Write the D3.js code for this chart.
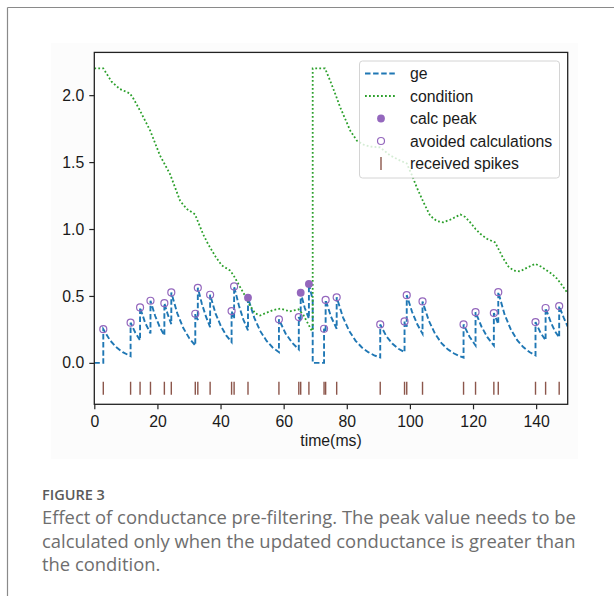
<!DOCTYPE html>
<html>
<head>
<meta charset="utf-8">
<script src="https://cdn.jsdelivr.net/npm/d3@7"></script>
<style>
  html, body { margin: 0; padding: 0; background: #fff; }
  svg { display: block; }
</style>
</head>
<body>
<div id="chart"></div>
<script>
// Received spike times (ms)
const spikeTimes = [2.85, 11.5, 14.5, 17.8, 22.2, 24.4, 32.0, 32.8, 36.7, 43.5, 44.3, 48.7,
  58.5, 64.8, 65.4, 68.0, 72.8, 73.3, 76.8, 90.6, 98.3, 99.0, 104.0,
  117.0, 120.8, 126.6, 128.0, 139.8, 143.0, 147.3];
// Conductance value right after each spike
const peakValues = [0.252, 0.30, 0.414, 0.464, 0.446, 0.526, 0.367, 0.561, 0.509, 0.387, 0.571, 0.487,
  0.325, 0.342, 0.524, 0.59, 0.255, 0.47, 0.49, 0.287, 0.31, 0.506, 0.459,
  0.287, 0.379, 0.372, 0.528, 0.305, 0.41, 0.424];
// Whether the peak had to be calculated (true) or was skipped (false)
const peakCalculated = [false, false, false, false, false, false, false, false, false, false, false, true,
  false, false, true, true, false, false, false, false, false, false, false,
  false, false, false, false, false, false, false];
// Level at which received spikes are marked
const spikeLevel = -0.19;

// Excitatory conductance trace [time, ge]
const geTrace = [
  [0, 0], [2.85, 0], [2.85, 0.252], [5, 0.168], [7, 0.116], [9, 0.08], [11.5, 0.05], [11.5, 0.30],
  [13, 0.225], [14.5, 0.168], [14.5, 0.414], [16.1, 0.30], [17.8, 0.22], [17.8, 0.464],
  [19.3, 0.35], [20.8, 0.265], [22.2, 0.205], [22.2, 0.446], [23.3, 0.36], [24.4, 0.29], [24.4, 0.526],
  [26.3, 0.37], [28.2, 0.26], [30.1, 0.184], [32.0, 0.13], [32.0, 0.367], [32.8, 0.32], [32.8, 0.561],
  [34.1, 0.44], [35.4, 0.345], [36.7, 0.267], [36.7, 0.509], [38.4, 0.37], [40.1, 0.275], [41.8, 0.205],
  [43.5, 0.155], [43.5, 0.387], [44.3, 0.33], [44.3, 0.571], [45.8, 0.43], [47.2, 0.325], [48.7, 0.243],
  [48.7, 0.487], [50.7, 0.336], [52.6, 0.237], [54.6, 0.164], [56.5, 0.115], [58.5, 0.08], [58.5, 0.325],
  [60.6, 0.22], [62.7, 0.15], [64.8, 0.10], [64.8, 0.342], [65.4, 0.305], [65.4, 0.524], [66.7, 0.41],
  [68.0, 0.33], [68.0, 0.59], [69.2, 0.47], [69.2, 0], [72.8, 0], [72.8, 0.255], [73.3, 0.232],
  [73.3, 0.47], [75.0, 0.345], [76.8, 0.255], [76.8, 0.49], [78.8, 0.34], [80.8, 0.237], [82.8, 0.165],
  [84.8, 0.115], [86.8, 0.08], [88.7, 0.056], [90.6, 0.04], [90.6, 0.287], [92.5, 0.20], [94.4, 0.145],
  [96.4, 0.105], [98.3, 0.08], [98.3, 0.31], [99.0, 0.27], [99.0, 0.506], [100.7, 0.38], [102.3, 0.29],
  [104.0, 0.218], [104.0, 0.459], [106, 0.315], [108, 0.216], [110, 0.148], [112, 0.101], [114, 0.07],
  [115.5, 0.053], [117.0, 0.039], [117.0, 0.287], [118.9, 0.195], [120.8, 0.13], [120.8, 0.379],
  [122.7, 0.27], [124.6, 0.19], [126.6, 0.13], [126.6, 0.372], [128.0, 0.29], [128.0, 0.528],
  [130, 0.362], [132, 0.248], [134, 0.17], [136, 0.116], [138, 0.079], [139.8, 0.056], [139.8, 0.305],
  [141.4, 0.225], [143.0, 0.168], [143.0, 0.41], [144.7, 0.30], [146.0, 0.235], [147.3, 0.19],
  [147.3, 0.424], [148.7, 0.34], [150, 0.27]
];

// Pre-filtering condition [time, value]
const conditionTrace = [
  [0, 2.2], [2.85, 2.2], [5.5, 2.1], [8.1, 2.046], [11.3, 2.013], [12.5, 1.97], [14.5, 1.884],
  [17.7, 1.735], [20.8, 1.55], [24.0, 1.41], [27.2, 1.21], [29.3, 1.15], [31.9, 1.11], [34.5, 0.96],
  [36.0, 0.89], [38.5, 0.79], [40.4, 0.728], [43.0, 0.69], [44.1, 0.655], [46.2, 0.566], [47.8, 0.5],
  [49.3, 0.43], [51, 0.37], [52.5, 0.354], [54.6, 0.375], [56.7, 0.395], [58.9, 0.405], [62, 0.385],
  [64.7, 0.4], [66.2, 0.36], [68.9, 0.24], [69.2, 0.24], [69.2, 2.2], [73.1, 2.2], [74.7, 2.11],
  [76.5, 2.0], [77.9, 1.91], [81.1, 1.735], [83.2, 1.66], [85.3, 1.63], [87.4, 1.616], [90.6, 1.61],
  [93.7, 1.55], [97, 1.51], [99, 1.49], [100.5, 1.41], [102.2, 1.31], [104.3, 1.2], [106.4, 1.1],
  [108.5, 1.06], [110.5, 1.05], [112.8, 1.07], [116, 1.108], [117.5, 1.09], [119.1, 1.05], [120.8, 1.0],
  [122.3, 0.964], [124.4, 0.927], [127, 0.90], [128.3, 0.84], [129.6, 0.78], [131.2, 0.72], [132.8, 0.69],
  [134.9, 0.683], [137, 0.71], [139.7, 0.74], [141.5, 0.72], [143.4, 0.69], [145, 0.665], [146.6, 0.63],
  [148.2, 0.58], [150, 0.52]
];

const xTicks = [0, 20, 40, 60, 80, 100, 120, 140];
const yTicks = [0, 0.5, 1.0, 1.5, 2.0];
const legendLabels = ["ge", "condition", "calc peak", "avoided calculations", "received spikes"];
const xLabel = "time(ms)";
const captionTitle = "FIGURE 3";
const captionLines = [
  "Effect of conductance pre-filtering. The peak value needs to be",
  "calculated only when the updated conductance is greater than",
  "the condition."
];

const W = 614, H = 596;
const plot = { left: 94.3, right: 567.7, top: 52.4, bottom: 404.3 };
const colors = { ge: "#1f77b4", cond: "#2ca02c", peak: "#9467bd", spike: "#8c564b" };
const tickFont = "'Liberation Sans', Arial, sans-serif";
const labelSize = 15.8;

const svg = d3.select("#chart").append("svg").attr("width", W).attr("height", H);

// page frame and figure panel
svg.append("rect").attr("x", 51).attr("y", 43).attr("width", 527).attr("height", 416).attr("fill", "#fcfcfc");
svg.append("line").attr("x1", 7.5).attr("x2", W).attr("y1", 7.5).attr("y2", 7.5)
  .attr("stroke", "#8a8a8a").attr("stroke-width", 1.2);
svg.append("line").attr("x1", 7.5).attr("x2", 7.5).attr("y1", 7.5).attr("y2", H)
  .attr("stroke", "#8a8a8a").attr("stroke-width", 1.2);

const x = d3.scaleLinear().domain([0, 150]).range([plot.left, plot.right]);
const y = d3.scaleLinear().domain([-0.3095, 2.3195]).range([plot.bottom, plot.top]);

svg.append("rect").attr("x", plot.left).attr("y", plot.top)
  .attr("width", plot.right - plot.left).attr("height", plot.bottom - plot.top).attr("fill", "#fff");

svg.append("clipPath").attr("id", "plotClip").append("rect")
  .attr("x", plot.left).attr("y", plot.top)
  .attr("width", plot.right - plot.left).attr("height", plot.bottom - plot.top);

const g = svg.append("g").attr("clip-path", "url(#plotClip)");
const line = d3.line().x(d => x(d[0])).y(d => y(d[1]));

g.append("path").datum(geTrace).attr("d", line)
  .attr("fill", "none").attr("stroke", colors.ge).attr("stroke-width", 1.9)
  .attr("stroke-dasharray", "5.5,2.6");

g.append("path").datum(conditionTrace).attr("d", line)
  .attr("fill", "none").attr("stroke", colors.cond).attr("stroke-width", 1.8)
  .attr("stroke-dasharray", "1.8,2.2");

const peaks = spikeTimes.map((t, i) => ({ t, v: peakValues[i], calc: peakCalculated[i] }));

g.selectAll("circle.calc").data(peaks.filter(d => d.calc)).join("circle")
  .attr("class", "calc").attr("cx", d => x(d.t)).attr("cy", d => y(d.v)).attr("r", 3.9)
  .attr("fill", colors.peak);

g.selectAll("circle.avoided").data(peaks.filter(d => !d.calc)).join("circle")
  .attr("class", "avoided").attr("cx", d => x(d.t)).attr("cy", d => y(d.v)).attr("r", 3.5)
  .attr("fill", "none").attr("stroke", colors.peak).attr("stroke-width", 1.2);

g.selectAll("line.spike").data(spikeTimes).join("line")
  .attr("class", "spike")
  .attr("x1", d => x(d)).attr("x2", d => x(d))
  .attr("y1", y(spikeLevel) - 6.5).attr("y2", y(spikeLevel) + 6.5)
  .attr("stroke", colors.spike).attr("stroke-width", 1.4);

// axes
const xAxis = svg.append("g").attr("transform", `translate(0,${plot.bottom})`)
  .call(d3.axisBottom(x).tickValues(xTicks).tickFormat(d3.format("d")).tickSizeOuter(0).tickSize(5).tickPadding(6));
const yAxis = svg.append("g").attr("transform", `translate(${plot.left},0)`)
  .call(d3.axisLeft(y).tickValues(yTicks).tickFormat(d3.format(".1f")).tickSizeOuter(0).tickSize(5).tickPadding(5));
[xAxis, yAxis].forEach(a => {
  a.select(".domain").remove();
  a.selectAll(".tick line").attr("stroke", "#222").attr("stroke-width", 1.2);
  a.selectAll(".tick text").attr("font-family", tickFont).attr("font-size", labelSize).attr("fill", "#1a1a1a");
});

// frame of the axes
svg.append("rect").attr("x", plot.left).attr("y", plot.top)
  .attr("width", plot.right - plot.left).attr("height", plot.bottom - plot.top)
  .attr("fill", "none").attr("stroke", "#222").attr("stroke-width", 1.3);

svg.append("text").attr("x", x(75)).attr("y", 445.5).attr("text-anchor", "middle")
  .attr("font-family", tickFont).attr("font-size", labelSize).attr("fill", "#1a1a1a").text(xLabel);

// legend
const lg = svg.append("g");
lg.append("rect").attr("x", 359.5).attr("y", 61).attr("width", 200).attr("height", 117).attr("rx", 3)
  .attr("fill", "#fff").attr("fill-opacity", 0.8).attr("stroke", "#d4d4d4").attr("stroke-width", 1);
const rowY = i => 73.5 + i * 22.5;
const hx0 = 365, hx1 = 397, hxc = 381;
lg.append("line").attr("x1", hx0).attr("x2", hx1).attr("y1", rowY(0)).attr("y2", rowY(0))
  .attr("stroke", colors.ge).attr("stroke-width", 1.9).attr("stroke-dasharray", "5.5,2.6");
lg.append("line").attr("x1", hx0).attr("x2", hx1).attr("y1", rowY(1)).attr("y2", rowY(1))
  .attr("stroke", colors.cond).attr("stroke-width", 1.8).attr("stroke-dasharray", "1.8,2.2");
lg.append("circle").attr("cx", hxc).attr("cy", rowY(2)).attr("r", 3.9).attr("fill", colors.peak);
lg.append("circle").attr("cx", hxc).attr("cy", rowY(3)).attr("r", 3.5)
  .attr("fill", "none").attr("stroke", colors.peak).attr("stroke-width", 1.2);
lg.append("line").attr("x1", hxc).attr("x2", hxc).attr("y1", rowY(4) - 6.5).attr("y2", rowY(4) + 6.5)
  .attr("stroke", colors.spike).attr("stroke-width", 1.4);
legendLabels.forEach((s, i) => {
  lg.append("text").attr("x", 410).attr("y", rowY(i) + 5.5)
    .attr("font-family", tickFont).attr("font-size", labelSize).attr("fill", "#1a1a1a").text(s);
});

// caption
svg.append("text").attr("x", 42).attr("y", 499.5)
  .attr("font-family", "'Open Sans', 'Noto Sans', sans-serif").attr("font-size", 14.5)
  .attr("font-weight", 600).attr("fill", "#5a5a5a").text(captionTitle);
captionLines.forEach((s, i) => {
  svg.append("text").attr("x", 42).attr("y", 524 + i * 23.5)
    .attr("font-family", "'Open Sans', 'Noto Sans', sans-serif").attr("font-size", 18.4)
    .attr("fill", "#6e6e6e").text(s);
});
</script>
</body>
</html>
